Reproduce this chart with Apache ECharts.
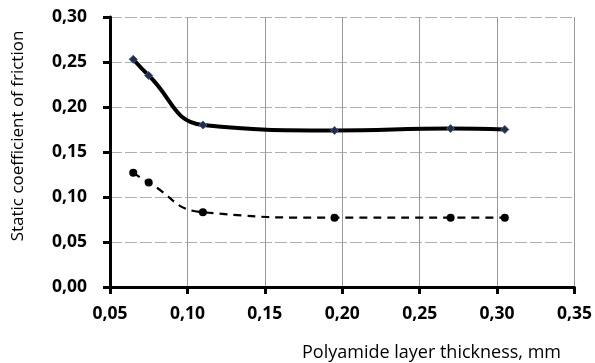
<!DOCTYPE html>
<html><head><meta charset="utf-8">
<script src="https://cdn.jsdelivr.net/npm/echarts@6/dist/echarts.min.js"></script>
<style>html,body{margin:0;padding:0;background:#fff}#c{width:595px;height:363px}</style>
</head><body><div id="c"></div>
<script>
var xUpper = [0.065, 0.075, 0.11, 0.195, 0.27, 0.305];
var yUpper = [0.253, 0.235, 0.180, 0.174, 0.176, 0.175];
var xLower = [0.065, 0.075, 0.11, 0.195, 0.27, 0.305];
var yLower = [0.127, 0.116, 0.083, 0.077, 0.077, 0.077];
var xTitle = 'Polyamide layer thickness, mm';
var yTitle = 'Static coefficient of friction';

function pairs(xs, ys){ return xs.map(function(x,i){return [x, ys[i]];}); }
var fmt = function(v){ return v.toFixed(2).replace('.', ','); };
var font = '"Open Sans", sans-serif';
var chart = echarts.init(document.getElementById('c'), null, {renderer:'canvas'});
chart.setOption({
  animation:false,
  grid:{left:110, right:20, top:17, bottom:76, containLabel:false},
  graphic:[
    {type:'text', x:561, y:353, style:{text:xTitle, font:'18px "Open Sans", sans-serif', fill:'#000', align:'right', verticalAlign:'middle'}},
    {type:'text', x:18, y:136, rotation:Math.PI/2, style:{text:yTitle, font:'17px "Open Sans", sans-serif', fill:'#000', align:'center', verticalAlign:'middle'}}
  ],
  xAxis:{type:'value', min:0.05, max:0.35, interval:0.05,
    axisLine:{show:true, lineStyle:{color:'#000', width:3}},
    axisTick:{show:true, length:7, lineStyle:{color:'#000', width:3}},
    axisLabel:{formatter:fmt, fontFamily:font, fontWeight:'bold', fontSize:17.5, color:'#000', margin:18},
    splitLine:{show:true, lineStyle:{color:'#999', width:1}}
  },
  yAxis:{type:'value', min:0, max:0.30, interval:0.05,
    axisLine:{show:true, onZero:false, lineStyle:{color:'#000', width:3}},
    axisTick:{show:true, length:7, lineStyle:{color:'#000', width:3}},
    axisLabel:{formatter:fmt, fontFamily:font, fontWeight:'bold', fontSize:17.5, color:'#000', margin:23},
    splitLine:{show:true, lineStyle:{color:'#b0b0b0', width:1, type:[12,3]}}
  },
  series:[
    {type:'line', data:pairs(xUpper,yUpper), smooth:0.45, symbol:'diamond', symbolSize:8,
     lineStyle:{color:'#000', width:4}, itemStyle:{color:'#1f2f4a', borderColor:'#3a5a8a', borderWidth:1}, z:3},
    {type:'line', data:pairs(xLower,yLower), smooth:0.5, symbol:'circle', symbolSize:8,
     lineStyle:{color:'#000', width:2.2, type:[8,6]}, itemStyle:{color:'#000'}, z:2}
  ]
});
</script></body></html>
